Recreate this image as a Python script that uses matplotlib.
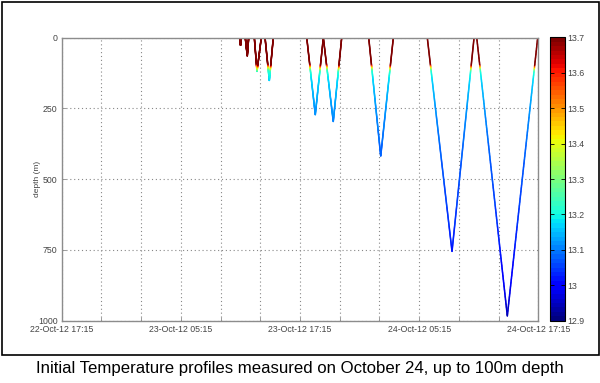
import numpy as np
import matplotlib
matplotlib.use("Agg")
import matplotlib.pyplot as plt
import matplotlib.dates as mdates
from matplotlib.collections import LineCollection
from matplotlib.patches import Rectangle
from datetime import datetime, timedelta

plt.rcParams['font.family'] = ['Liberation Sans', 'DejaVu Sans']

# ---- data ----
start_time = datetime(2012, 10, 22, 17, 15)
end_time = datetime(2012, 10, 24, 17, 15)

# each dive: surface -> bottom -> surface (hours after start, depth in m)
dive_start_h = [17.93, 18.49, 19.40, 20.48, 24.68, 26.35, 30.92, 36.82, 41.80]
dive_bottom_h = [18.01, 18.69, 19.67, 20.91, 25.54, 27.35, 32.13, 39.31, 44.88]
dive_end_h = [18.09, 18.83, 20.10, 21.31, 26.35, 28.20, 33.40, 41.53, 47.94]
dive_max_depth = [26, 64, 119, 151, 272, 296, 418, 755, 983]

# temperature profile vs depth (colour)
profile_depth = [0, 95, 103, 110, 118, 150, 250, 400, 600, 760, 900, 1000]
profile_temp = [13.75, 13.72, 13.5, 13.35, 13.22, 13.17, 13.12, 13.08, 13.05, 13.02, 12.98, 12.94]

cbar_ticks = [12.9, 13.0, 13.1, 13.2, 13.3, 13.4, 13.5, 13.6, 13.7]
depth_ticks = [0, 250, 500, 750, 1000]

# ---- figure ----
W, H = 600, 383
fig = plt.figure(figsize=(W / 100, H / 100), dpi=100)
ax = fig.add_axes([61.7 / W, 1 - 320.7 / H, (538.3 - 61.7) / W, (320.7 - 37.7) / H])

cmap = plt.get_cmap('jet', 64)
norm = plt.Normalize(12.9, 13.7)

t0 = mdates.date2num(start_time)
segs_all, temps_all = [], []
for s, b, e, d in zip(dive_start_h, dive_bottom_h, dive_end_h, dive_max_depth):
    for (ha, da), (hb, db) in [((s, 0), (b, d)), ((b, d), (e, 0))]:
        n = 200
        hh = np.linspace(ha, hb, n)
        dd = np.linspace(da, db, n)
        xx = t0 + hh / 24.0
        pts = np.column_stack([xx, dd]).reshape(-1, 1, 2)
        segs = np.concatenate([pts[:-1], pts[1:]], axis=1)
        dmid = (dd[:-1] + dd[1:]) / 2
        segs_all.append(segs)
        temps_all.append(np.interp(dmid, profile_depth, profile_temp))

segs_all = np.concatenate(segs_all)
temps_all = np.concatenate(temps_all)
lc = LineCollection(segs_all, cmap=cmap, norm=norm, linewidths=1.1, capstyle='round')
lc.set_array(temps_all)
ax.add_collection(lc)

ax.set_xlim(mdates.date2num(start_time), mdates.date2num(end_time))
ax.set_ylim(1000, 0)

# x ticks every 4 hours, labels every 12 hours
xt = [start_time + timedelta(hours=4 * i) for i in range(13)]
ax.set_xticks([mdates.date2num(t) for t in xt])
ax.set_xticklabels([t.strftime('%d-%b-%y %H:%M') if i % 3 == 0 else '' for i, t in enumerate(xt)])
ax.set_yticks(depth_ticks)
ax.set_yticklabels([str(v) for v in depth_ticks])

ax.grid(True, linestyle=(0, (1, 2.5)), color='#888888', linewidth=0.8)
for sp in ax.spines.values():
    sp.set_color('#8c8c8c')
    sp.set_linewidth(1.0)
ax.tick_params(direction='in', length=3, width=0.6, colors='#8c8c8c',
               labelcolor='#444444', labelsize=6.3, pad=3)
ax.set_ylabel('depth (m)', fontsize=6, color='#444444', labelpad=-2)

# colour bar
cax = fig.add_axes([550 / W, 1 - 320.7 / H, 15 / W, (320.7 - 37.3) / H])
sm = matplotlib.cm.ScalarMappable(norm=norm, cmap=cmap)
cb = fig.colorbar(sm, cax=cax, ticks=cbar_ticks)
cb.ax.set_yticklabels(['%g' % v for v in cbar_ticks])
cb.ax.tick_params(direction='in', length=3, width=0.6, colors='black',
                  labelcolor='#444444', labelsize=6.3, pad=2, left=True)
cb.outline.set_edgecolor('black')
cb.outline.set_linewidth(0.8)

# frame and caption
fig.add_artist(Rectangle((1.5 / W, 1 - 354.5 / H), 597 / W, 353 / H,
                         transform=fig.transFigure, fill=False,
                         edgecolor='black', linewidth=1.2))
fig.text(0.5, 1 - 369 / H, 'Initial Temperature profiles measured on October 24, up to 100m depth',
         ha='center', va='center', fontsize=12.1, color='black')

fig.savefig('out.png', dpi=100)
